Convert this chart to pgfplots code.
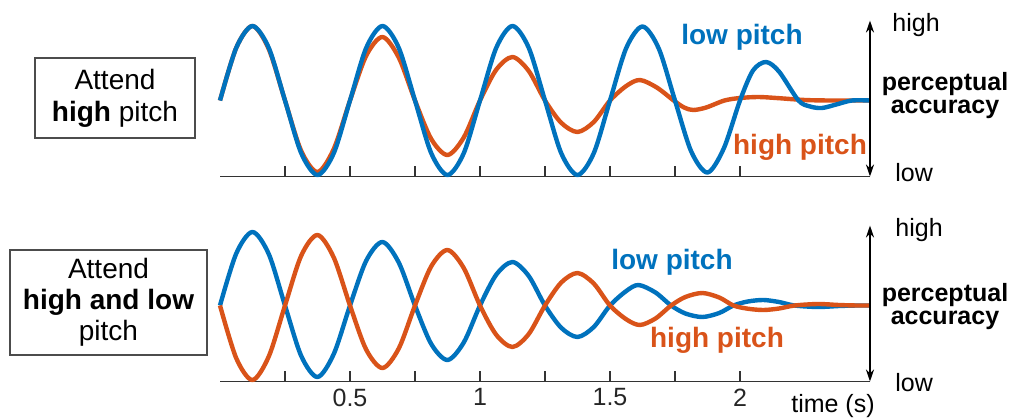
\documentclass[border=0pt]{standalone}
\usepackage{fontspec}
\setmainfont{Liberation Sans}
\usepackage{pgfplots}
\pgfplotsset{compat=1.18}
\usetikzlibrary{arrows.meta}
\definecolor{mblue}{rgb}{0,0.447,0.741}
\definecolor{morange}{rgb}{0.85,0.325,0.098}
\begin{document}
\begin{tikzpicture}
\path[use as bounding box] (0pt,0pt) rectangle (507pt,-209pt);
\pgfplotsset{panel/.style={
  scale only axis, width=325pt, height=78pt,
  xmin=0, xmax=2.5, ymin=-76, ymax=80,
  clip=false,
  axis x line*=bottom, hide y axis,
  xtick={0.5,1,1.5,2},
  minor xtick={0.25,0.75,1.25,1.75},
  tick align=inside, major tick length=5.5pt, minor tick length=5.5pt,
  axis line style={line width=0.7pt, black!80},
  tick style={line width=0.7pt, black!80},
  /pgf/number format/assume math mode=true,
  xticklabel style={font=\fontsize{12.5}{14}\selectfont, text=black!85},
  every axis plot/.append style={line width=2.2pt, smooth, line join=round, mark=none},
}}
% ---------- top panel ----------
\begin{axis}[panel, at={(110pt,-88.25pt)}, anchor=south west, xticklabels={}]
\addplot[morange] coordinates {
(0,0) (0.0625,52.7) (0.125,74.5) (0.1875,51.5) (0.25,0) (0.3125,-50.5) (0.375,-71.5) (0.4375,-48.5)
(0.5,0) (0.5625,44.9) (0.625,63.5) (0.6875,43) (0.75,0) (0.8125,-38.5) (0.875,-54.5) (0.9375,-37)
(1,0) (1.0625,30.8) (1.125,43.5) (1.1875,29.5) (1.25,0) (1.3125,-22.3) (1.375,-31.5) (1.4375,-21.5)
(1.5,0) (1.5625,14.5) (1.615,20.5) (1.68,13) (1.745,0) (1.785,-7) (1.82,-9.5) (1.87,-7)
(1.94,0) (2.0,2.5) (2.07,3.5) (2.14,2.5) (2.25,0.5) (2.35,0) (2.5,0)};
\addplot[mblue] coordinates {
(0,0) (0.0625,52.7) (0.125,74.5) (0.1875,52.7) (0.25,0) (0.3125,-52.7) (0.375,-74.5) (0.4375,-52.7)
(0.5,0) (0.5625,52.7) (0.625,74.5) (0.6875,52.7) (0.75,0) (0.8125,-52.7) (0.875,-74.5) (0.9375,-52.7)
(1,0) (1.0625,52.7) (1.125,74.5) (1.1875,52.7) (1.25,0) (1.3125,-52.7) (1.375,-74.5) (1.4375,-52.7)
(1.5,0) (1.5625,52.5) (1.625,74) (1.6875,52) (1.75,0) (1.8125,-51) (1.875,-72) (1.9375,-48)
(2,0) (2.05,30) (2.1,38.5) (2.15,29) (2.225,0) (2.27,-6) (2.315,-7.5) (2.37,-4) (2.43,0) (2.5,0)};
\draw[{Stealth[length=6pt,width=4pt]}-{Stealth[length=6pt,width=4pt]}, line width=0.9pt] (axis cs:2.5,-76) -- (axis cs:2.5,80);
\end{axis}
% ---------- bottom panel ----------
\begin{axis}[panel, at={(110pt,-190.75pt)}, anchor=south west]
\addplot[mblue] coordinates {
(0,0) (0.0625,52) (0.125,73.5) (0.1875,51.5) (0.25,0) (0.3125,-50.5) (0.375,-71.5) (0.4375,-48.5)
(0.5,0) (0.5625,44.9) (0.625,63.5) (0.6875,43) (0.75,0) (0.8125,-38.5) (0.875,-54.5) (0.9375,-37)
(1,0) (1.0625,30.8) (1.125,43.5) (1.1875,29.5) (1.25,0) (1.3125,-22.3) (1.375,-31.5) (1.4375,-21.5)
(1.5,0) (1.5625,14.5) (1.61,20.5) (1.675,13) (1.735,0) (1.79,-8) (1.855,-11.5) (1.92,-7.5)
(1.975,0) (2.03,4) (2.09,5.5) (2.15,3.5) (2.21,0) (2.3,-1.5) (2.38,-0.5) (2.45,0) (2.5,0)};
\addplot[morange] coordinates {
(0,0) (0.0625,-52.7) (0.125,-74.5) (0.1875,-51) (0.25,0) (0.3125,49.9) (0.375,70.5) (0.4375,48)
(0.5,0) (0.5625,-44.2) (0.625,-62.5) (0.6875,-43) (0.75,0) (0.8125,39.2) (0.875,55.5) (0.9375,37.5)
(1,0) (1.0625,-29.3) (1.125,-41.5) (1.1875,-28.5) (1.25,0) (1.3125,23) (1.375,32.5) (1.4375,22)
(1.5,0) (1.5625,-13.8) (1.615,-19.5) (1.675,-13) (1.735,0) (1.79,8.5) (1.855,12.5) (1.92,8)
(1.975,0) (2.03,-3.2) (2.09,-4.5) (2.15,-3) (2.21,0) (2.3,1.5) (2.38,0.5) (2.45,0) (2.5,0)};
\draw[{Stealth[length=6pt,width=4pt]}-{Stealth[length=6pt,width=4pt]}, line width=0.9pt] (axis cs:2.5,-76) -- (axis cs:2.5,80);
\end{axis}
% ---------- boxes ----------
\node[draw=black!70, line width=0.6pt, minimum width=80pt, minimum height=40pt, inner sep=0pt, align=center,
  font=\fontsize{14}{16}\selectfont] at (57.5pt,-49pt) {Attend\\\textbf{high} pitch};
\node[draw=black!70, line width=0.6pt, minimum width=98.5pt, minimum height=52.5pt, inner sep=0pt, align=center,
  font=\fontsize{14}{15.5}\selectfont] at (54.25pt,-151.25pt) {Attend\\\textbf{high and low}\\pitch};
% ---------- right labels ----------
\begin{scope}[every node/.style={font=\fontsize{12.5}{14}\selectfont, inner sep=0pt}]
\node[anchor=west] at (446pt,-12.5pt) {high};
\node[anchor=west] at (447.5pt,-86.5pt) {low};
\node[align=center, font=\bfseries\fontsize{12.5}{11.5}\selectfont] at (472.5pt,-48pt) {perceptual\\accuracy};
\node[anchor=west] at (447.5pt,-115pt) {high};
\node[anchor=west] at (447.5pt,-191.5pt) {low};
\node[align=center, font=\bfseries\fontsize{12.5}{11.5}\selectfont] at (472.5pt,-153.5pt) {perceptual\\accuracy};
\node at (416.5pt,-203pt) {time (s)};
\end{scope}
% ---------- curve labels ----------
\begin{scope}[every node/.style={font=\bfseries\fontsize{14}{16}\selectfont, inner sep=0pt}]
\node[text=mblue] at (371pt,-18.5pt) {low pitch};
\node[text=morange] at (400pt,-73.5pt) {high pitch};
\node[text=mblue] at (336pt,-131pt) {low pitch};
\node[text=morange] at (358.5pt,-170pt) {high pitch};
\end{scope}
\end{tikzpicture}
\end{document}
